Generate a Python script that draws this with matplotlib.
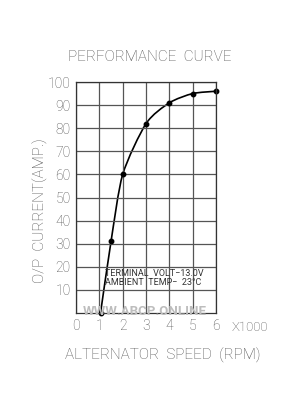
import numpy as np
import matplotlib.pyplot as plt
from matplotlib.path import Path
from matplotlib.patches import PathPatch

# performance curve data (speed x1000 rpm, current A)
speed = [1.05, 1.5, 2.0, 3.0, 4.0, 5.0, 6.0]
current = [0, 31, 60, 82, 91, 95, 96]
xticks = [0, 1, 2, 3, 4, 5, 6]
yticks = [10, 20, 30, 40, 50, 60, 70, 80, 90, 100]

fam = ['Roboto', 'DejaVu Sans']
txt = '#505050'
lw8 = 'light'

fig = plt.figure(figsize=(2.83, 4.0), dpi=100)
ax = fig.add_axes([0.2686, 0.2175, 0.495, 0.5775])
ax.set_xlim(0, 6)
ax.set_ylim(0, 100)
ax.set_xticks(xticks)
ax.set_yticks(yticks)
ax.set_xticklabels([str(t) for t in xticks], family=fam, fontsize=10,
                   color=txt, weight=lw8)
ax.set_yticklabels([str(t) for t in yticks], family=fam, fontsize=10,
                   color=txt, weight=lw8)
ax.tick_params(length=0, pad=4)
ax.grid(True, color='#555555', lw=0.9)
for s in ax.spines.values():
    s.set_color('#333333')
    s.set_linewidth(0.9)

# smooth curve through the points (Catmull-Rom as bezier segments)
pts = np.column_stack([speed, current]).astype(float)
verts = [pts[0]]
codes = [Path.MOVETO]
k = 1 / 8
for i in range(len(pts) - 1):
    p0 = pts[i - 1] if i > 0 else pts[i]
    p1, p2 = pts[i], pts[i + 1]
    p3 = pts[i + 2] if i + 2 < len(pts) else pts[i + 1]
    verts += [p1 + (p2 - p0) * k, p2 - (p3 - p1) * k, p2]
    codes += [Path.CURVE4] * 3
ax.add_patch(PathPatch(Path(verts, codes), fill=False, lw=1.2, ec='black'))
ax.plot(speed, current, 'o', color='black', ms=3.2, clip_on=False)

ax.text(3.35, 17.3, 'TERMINAL  VOLT\u221213.0V', family=fam, fontsize=6.5,
        color='#333333', ha='center', va='center')
ax.text(3.3, 13.0, 'AMBIENT  TEMP\u2212  23\u00b0C', family=fam, fontsize=6.5,
        color='#333333', ha='center', va='center')

fig.text(0.53, 0.857, 'PERFORMANCE  CURVE', family=fam, fontsize=11,
         color=txt, ha='center', va='center', weight=lw8)
fig.text(0.143, 0.4725, 'O/P  CURRENT(AMP.)', family=fam, fontsize=11,
         color=txt, ha='center', va='center', rotation=90, weight=lw8)
fig.text(0.576, 0.112, 'ALTERNATOR  SPEED  (RPM)', family=fam, fontsize=11,
         color=txt, ha='center', va='center', weight=lw8)
fig.text(0.82, 0.182, 'X1000', family=fam, fontsize=9.5, color=txt,
         ha='left', va='center', weight=lw8)
fig.text(0.512, 0.222, 'WWW.ABCP.ONLINE', family=fam, fontsize=9.5,
         color='#bdbdbd', ha='center', va='center', weight='bold')

fig.savefig('out.png', dpi=100, facecolor='white')
